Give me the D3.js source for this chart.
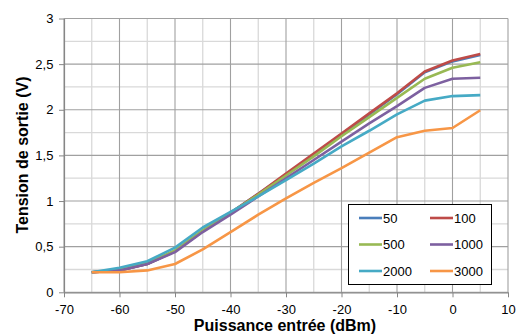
<!DOCTYPE html>
<html><head><meta charset="utf-8">
<script src="https://cdn.jsdelivr.net/npm/d3@7"></script>
<style>body{margin:0;background:#fff;font-family:"Liberation Sans",Arial,sans-serif;}</style>
</head><body><svg id="c" width="518" height="334"></svg>
<script>
const xValues = [-65,-60,-55,-50,-45,-40,-35,-30,-25,-20,-15,-10,-5,0,5];
const seriesNames = ["50","100","500","1000","2000","3000"];
const s50   = [0.22,0.24,0.31,0.45,0.67,0.87,1.08,1.29,1.51,1.73,1.95,2.17,2.41,2.53,2.60];
const s100  = [0.22,0.24,0.31,0.45,0.67,0.87,1.08,1.30,1.52,1.74,1.96,2.18,2.42,2.54,2.61];
const s500  = [0.22,0.25,0.32,0.46,0.68,0.87,1.07,1.28,1.49,1.71,1.92,2.13,2.34,2.46,2.52];
const s1000 = [0.22,0.24,0.31,0.44,0.66,0.85,1.05,1.25,1.45,1.65,1.85,2.04,2.24,2.34,2.35];
const s2000 = [0.22,0.27,0.34,0.49,0.71,0.88,1.05,1.23,1.41,1.60,1.77,1.95,2.10,2.15,2.16];
const s3000 = [0.22,0.22,0.24,0.31,0.47,0.66,0.85,1.03,1.20,1.36,1.53,1.70,1.77,1.80,1.995];
const colors = ["#4A7EBB","#BE4B48","#98B954","#7D60A0","#46AAC5","#F79646"];
const xTicks = [-70,-60,-50,-40,-30,-20,-10,0,10];
const yTicks = [0,0.5,1,1.5,2,2.5,3];
const xTitle = "Puissance entrée (dBm)";
const yTitle = "Tension de sortie (V)";

const allSeries = [s50,s100,s500,s1000,s2000,s3000];
const svg = d3.select("#c");
const L=64,R=508,T=18.5,B=292.3;
const x = d3.scaleLinear().domain([-70,10]).range([L,R]);
const y = d3.scaleLinear().domain([0,3]).range([B,T]);
const fmt = v => String(v).replace(".",",");

// minor grid
const g = svg.append("g");
d3.range(-65,10,10).forEach(v=>g.append("line").attr("x1",x(v)).attr("x2",x(v)).attr("y1",T).attr("y2",B).attr("stroke","#d9d9d9").attr("stroke-width",1.3));
d3.range(0.25,3,0.5).forEach(v=>g.append("line").attr("x1",L).attr("x2",R).attr("y1",y(v)).attr("y2",y(v)).attr("stroke","#d9d9d9").attr("stroke-width",1.3));
// major grid
xTicks.forEach(v=>g.append("line").attr("x1",x(v)).attr("x2",x(v)).attr("y1",T).attr("y2",B).attr("stroke","#a0a0a0").attr("stroke-width",1.1));
yTicks.forEach(v=>g.append("line").attr("x1",L).attr("x2",R).attr("y1",y(v)).attr("y2",y(v)).attr("stroke","#a0a0a0").attr("stroke-width",1.1));

// axes
const xa = svg.append("g").attr("transform",`translate(0,${B})`)
  .call(d3.axisBottom(x).tickValues(xTicks).tickSize(5).tickSizeOuter(0).tickFormat(d=>String(d)));
const ya = svg.append("g").attr("transform",`translate(${L},0)`)
  .call(d3.axisLeft(y).tickValues(yTicks).tickSize(5).tickSizeOuter(0).tickFormat(fmt));
[xa,ya].forEach(a=>{a.select(".domain").attr("stroke","#868686").attr("stroke-width",1.2);
  a.selectAll(".tick line").attr("stroke","#868686");
  a.selectAll("text").attr("font-family","Liberation Sans, Arial, sans-serif").attr("font-size",13).attr("fill","#000");});
xa.selectAll("text").attr("dy","1.05em");
ya.selectAll("text").attr("dx","-0.2em");

// lines
const line = d3.line().x((d,i)=>x(xValues[i])).y(d=>y(d));
allSeries.forEach((s,k)=>svg.append("path").datum(s).attr("d",line).attr("fill","none")
  .attr("stroke",colors[k]).attr("stroke-width",2.6).attr("stroke-linejoin","round"));

// legend
const lg = svg.append("g");
lg.append("rect").attr("x",348.5).attr("y",204.5).attr("width",143).attr("height",80).attr("fill","#fff").attr("stroke","#000").attr("stroke-width",1);
seriesNames.forEach((n,k)=>{
  const col=k%2,row=Math.floor(k/2);
  const lx = col? 430:359, ly = 218+row*26.5;
  lg.append("line").attr("x1",lx).attr("x2",lx+23).attr("y1",ly).attr("y2",ly).attr("stroke",colors[k]).attr("stroke-width",2.6);
  lg.append("text").attr("x",lx+24).attr("y",ly+4.5).attr("font-size",13).attr("fill","#000").text(n);
});

// titles
svg.append("text").attr("x",285).attr("y",330.5).attr("text-anchor","middle").attr("font-weight","bold").attr("font-size",16).text(xTitle);
svg.append("text").attr("transform",`translate(28,155) rotate(-90)`).attr("text-anchor","middle").attr("font-weight","bold").attr("font-size",16).text(yTitle);
</script></body></html>
